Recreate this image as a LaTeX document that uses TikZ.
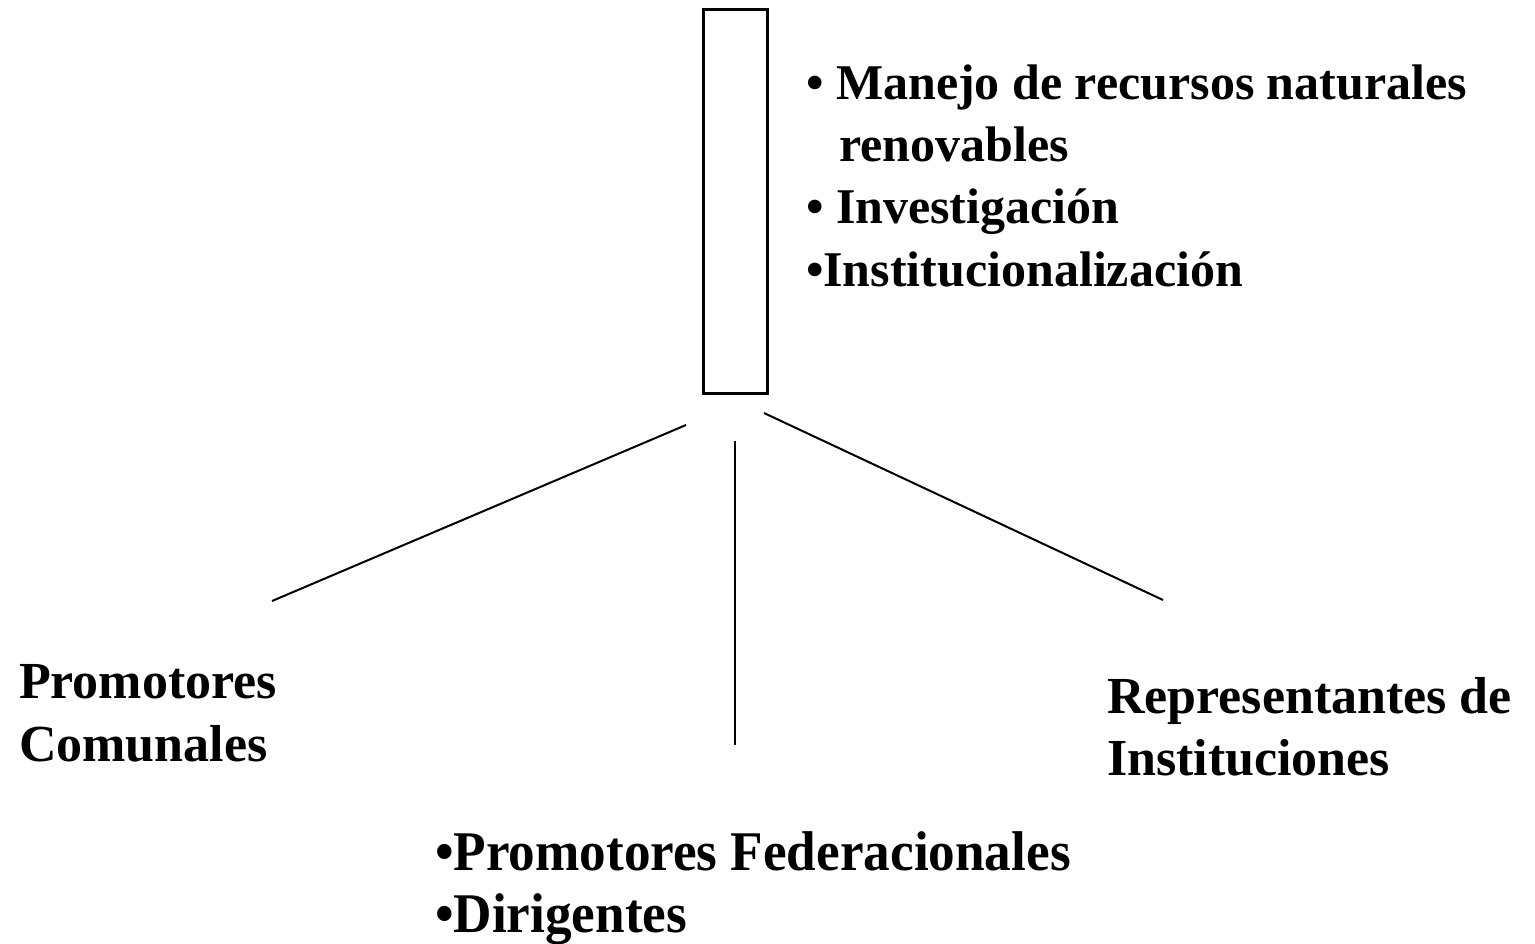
\documentclass[tikz,border=0pt]{standalone}
\usepackage{fontspec}
\setmainfont{Liberation Serif}

\begin{document}
\begin{tikzpicture}[x=0.5pt,y=-0.5pt]
\tikzstyle{every node}+=[inner sep=0pt, outer sep=0pt]
\tikzstyle{label top}=[anchor=base west, font=\fontsize{25}{30}\selectfont\bfseries]
\tikzstyle{label big}=[anchor=base west, font=\fontsize{26}{31}\selectfont\bfseries]
\tikzstyle{label tall}=[anchor=base west, font=\fontsize{28}{33}\selectfont\bfseries]
\tikzstyle{spoke}=[black, line width=1pt]
\useasboundingbox (0,0) rectangle (1535,943);
% central box
\node [draw=black, line width=1.5pt, minimum width=32pt, minimum height=192pt] (hub) at (735,201) {};
% topics next to the box
\node [label top] (manejo) at (806,99) {• Manejo de recursos naturales};
\node [label top] (renov) at (839,161) {renovables};
\node [label top] (invest) at (806,223) {• Investigación};
\node [label top] (instit) at (806,286) {•Institucionalización};
% the three groups
\node [label big] (promo) at (19,698) {Promotores};
\node [label big] (comun) at (19,761) {Comunales};
\node [label big] (repre) at (1107,713) {Representantes de};
\node [label big] (insts) at (1107,775) {Instituciones};
\node [label tall] (feder) at (435,870) {\scalebox{0.95}[1]{•Promotores Federacionales}};
\node [label tall] (dirig) at (435,932) {\scalebox{0.95}[1]{•Dirigentes}};
% spokes
\coordinate (hubL) at (686,425);
\coordinate (hubM) at (735,441);
\coordinate (hubR) at (764,413);
\coordinate (endL) at (272,601);
\coordinate (endM) at (735,745);
\coordinate (endR) at (1163,600);
\draw [spoke] (hubL) -- (endL);
\draw [spoke] (hubM) -- (endM);
\draw [spoke] (hubR) -- (endR);
\end{tikzpicture}
\end{document}
